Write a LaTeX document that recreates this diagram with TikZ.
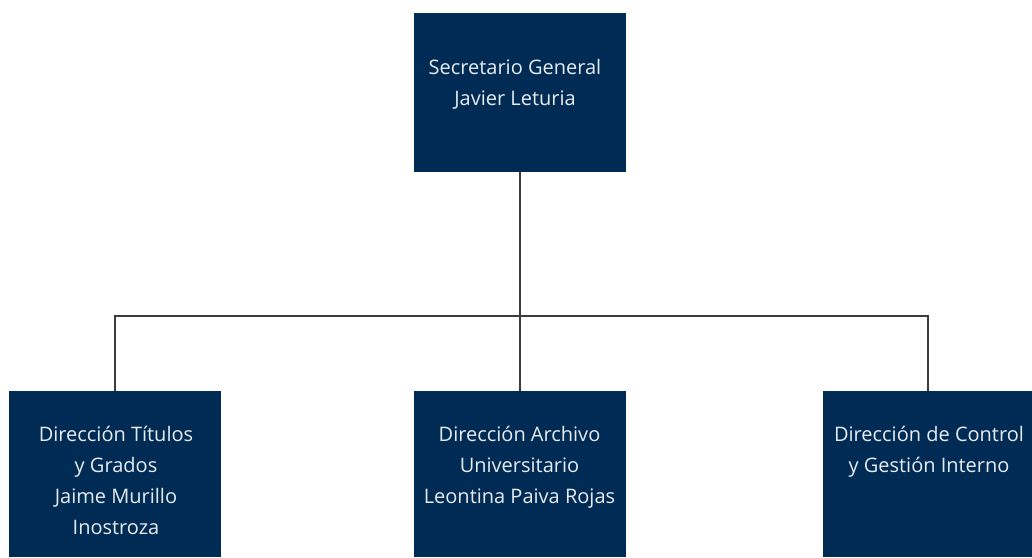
\documentclass[tikz,border=0pt]{standalone}
\usepackage{fontspec}
\setmainfont{Open Sans}
\definecolor{navy}{HTML}{002B54}
\definecolor{linegray}{HTML}{3C3C3C}
\definecolor{boxtext}{HTML}{E8ECF0}
\begin{document}
\begin{tikzpicture}[x=1pt,y=-1pt,
  orgbox/.style={fill=navy, draw=none, inner sep=0, outer sep=0, rectangle},
  orgtext/.style={text=boxtext, anchor=north, inner sep=0, outer sep=0, align=center,
    font={\fontsize{20}{31}\selectfont}},
  link/.style={draw=linegray, line width=1.4pt}]
\useasboundingbox[fill=white] (0,0) rectangle (1032,557);
% boxes
\node[orgbox, minimum width=212pt, minimum height=159pt] (top) at (520,92.5) {};
\node[orgbox, minimum width=212pt, minimum height=166pt] (left) at (115,474) {};
\node[orgbox, minimum width=212pt, minimum height=166pt] (mid) at (520,474) {};
\node[orgbox, minimum width=210pt, minimum height=166pt] (right) at (928,474) {};
% texts
\node[orgtext] (ttop) at (515,52.3) {\rule{0pt}{22pt}Secretario General\\Javier Leturia};
\node[orgtext] (tleft) at (116,419) {\rule{0pt}{22pt}Dirección Títulos\\y Grados\\Jaime Murillo\\Inostroza};
\node[orgtext] (tmid) at (519.5,419) {\rule{0pt}{22pt}Dirección Archivo\\Universitario\\Leontina Paiva Rojas};
\node[orgtext] (tright) at (929,419) {\rule{0pt}{22pt}Dirección de Control\\y Gestión Interno};
% connectors
\coordinate (bus) at (520,316);
\draw[link] (top.south) -- (bus);
\draw[link] (left.north) |- (bus) -| (right.north);
\draw[link] (bus) -- (mid.north);
\end{tikzpicture}
\end{document}
